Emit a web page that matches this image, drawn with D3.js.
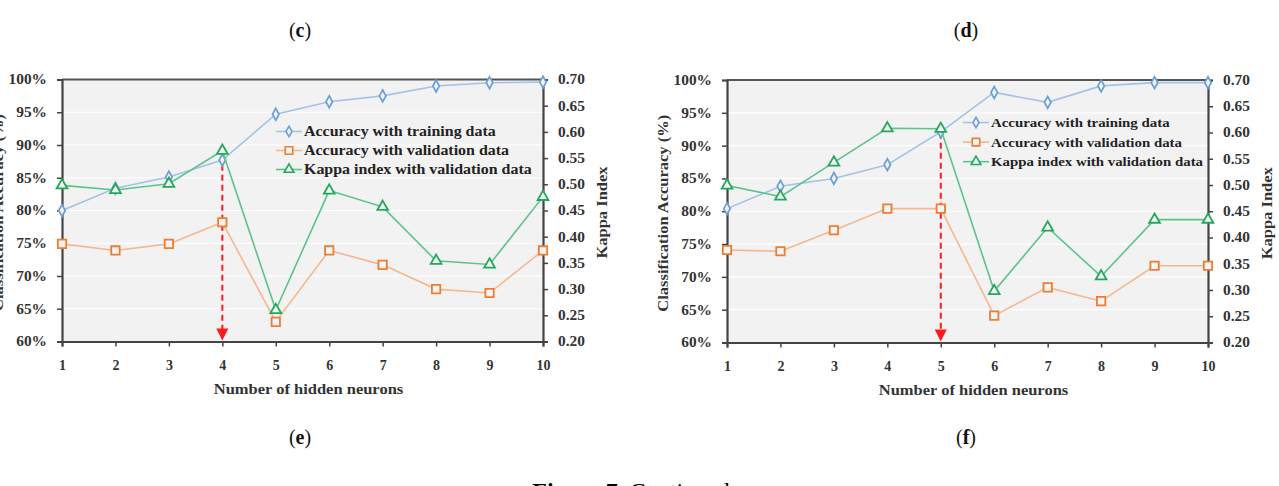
<!DOCTYPE html>
<html>
<head>
<meta charset="UTF-8">
<title>hidden_neurons</title>
<script src="https://cdn.jsdelivr.net/npm/d3@7/dist/d3.min.js"></script>
<style>
body { margin: 0; background: #fff; }
text { font-family: "Liberation Serif", "Times New Roman", serif; }
.axis text { font-size: 14px; font-weight: bold; fill: #333; }
.axis path, .axis line { stroke: #444; }
.title { font-size: 15px; font-weight: bold; fill: #333; }
.legend text { font-weight: bold; fill: #222; }
.panel { font-size: 20px; fill: #111; }
</style>
</head>
<body>
<div id="main"></div>
<script>
// x categories
var neurons = [1, 2, 3, 4, 5, 6, 7, 8, 9, 10];

// panel (e)
var trainE = [0.800, 0.834, 0.851, 0.877, 0.947, 0.966, 0.975, 0.990, 0.995, 0.996];
var validE = [0.749, 0.739, 0.749, 0.782, 0.630, 0.739, 0.717, 0.680, 0.674, 0.739];
var kappaE = [0.498, 0.489, 0.501, 0.564, 0.260, 0.488, 0.457, 0.354, 0.347, 0.476];

// panel (f)
var trainF = [0.804, 0.838, 0.850, 0.871, 0.921, 0.981, 0.966, 0.991, 0.996, 0.996];
var validF = [0.741, 0.739, 0.771, 0.804, 0.804, 0.641, 0.684, 0.663, 0.717, 0.717];
var kappaF = [0.499, 0.478, 0.543, 0.608, 0.607, 0.298, 0.419, 0.326, 0.434, 0.434];

var pctTicks = [0.60, 0.65, 0.70, 0.75, 0.80, 0.85, 0.90, 0.95, 1.00];
var kappaTicks = [0.20, 0.25, 0.30, 0.35, 0.40, 0.45, 0.50, 0.55, 0.60, 0.65, 0.70];
var legendNames = ["Accuracy with training data", "Accuracy with validation data", "Kappa index with validation data"];
var panelNames = ["(c)", "(d)", "(e)", "(f)"];

var W = 1279, H = 486;
var svg = d3.select("#main").append("svg").attr("width", W).attr("height", H);

var colors = {
	train: { line: "#a3c2e8", mark: "#6a9fd8" },
	valid: { line: "#f5b88e", mark: "#ed7d31" },
	kappa: { line: "#5cc48a", mark: "#22a85a" }
};

// widen Times a little so it reads like the Palatino of the original
var SX = 1.1;

function draw(cfg) {
	var g = svg.append("g");

	var x = d3.scaleLinear().domain([1, 10]).range([cfg.left, cfg.right]);
	var y = d3.scaleLinear().domain([0.6, 1.0]).range([cfg.bottom, cfg.top]);
	var yk = d3.scaleLinear().domain([0.2, 0.7]).range([cfg.bottom, cfg.top]);

	// plot background + grid
	g.append("rect")
		.attr("x", cfg.left).attr("y", cfg.top)
		.attr("width", cfg.right - cfg.left).attr("height", cfg.bottom - cfg.top)
		.attr("fill", "#f2f2f2");

	g.selectAll("line.grid")
		.data(pctTicks.slice(1, -1))
		.enter().append("line")
			.attr("class", "grid")
			.attr("x1", cfg.left).attr("x2", cfg.right)
			.attr("y1", function (d) { return y(d); })
			.attr("y2", function (d) { return y(d); })
			.attr("stroke", "#fff").attr("stroke-width", 1.2);

	// top border
	g.append("line")
		.attr("x1", cfg.left).attr("x2", cfg.right)
		.attr("y1", cfg.top).attr("y2", cfg.top)
		.attr("stroke", "#555").attr("stroke-width", 2);

	// axes
	var axL = g.append("g").attr("class", "axis")
		.attr("transform", "translate(" + cfg.left + ",0)")
		.call(d3.axisLeft(y).tickValues(pctTicks).tickFormat(d3.format(".0%")).tickSizeOuter(0).tickSize(5).tickPadding(10));
	var axR = g.append("g").attr("class", "axis")
		.attr("transform", "translate(" + cfg.right + ",0)")
		.call(d3.axisRight(yk).tickValues(kappaTicks).tickFormat(d3.format(".2f")).tickSizeOuter(0).tickSize(5).tickPadding(10));
	var axB = g.append("g").attr("class", "axis")
		.attr("transform", "translate(0," + cfg.bottom + ")")
		.call(d3.axisBottom(x).tickValues(neurons).tickFormat(d3.format("d")).tickSizeOuter(0).tickSize(5).tickPadding(14));
	[axL, axR, axB].forEach(function (a) {
		a.select(".domain").attr("stroke-width", 2.2);
		a.selectAll(".tick line").attr("stroke-width", 1.5);
	});
	// stretch the tick labels sideways, keeping their anchors
	axL.selectAll(".tick text").attr("transform", "translate(-15,0) scale(" + SX + ",1) translate(15,0)");
	axR.selectAll(".tick text").attr("transform", "translate(15,0) scale(" + SX + ",1) translate(-15,0)");

	// axis titles
	g.append("text").attr("class", "title")
		.attr("transform", "translate(" + ((cfg.left + cfg.right) / 2 + 6) + "," + (cfg.bottom + 52) + ") scale(" + SX + ",1)")
		.attr("text-anchor", "middle")
		.text("Number of hidden neurons");
	g.append("text").attr("class", "title")
		.attr("transform", "translate(" + (cfg.left - 59) + "," + ((cfg.top + cfg.bottom) / 2 + 2) + ") rotate(-90) scale(" + SX + ",1)")
		.attr("text-anchor", "middle")
		.text("Classification Accuracy (%)");
	g.append("text").attr("class", "title")
		.attr("transform", "translate(" + (cfg.right + 64) + "," + ((cfg.top + cfg.bottom) / 2 + 2) + ") rotate(-90) scale(" + SX + ",1)")
		.attr("text-anchor", "middle")
		.text("Kappa Index");

	var series = [
		{ key: "train", vals: cfg.train, sc: y, sym: d3.symbolDiamond, size: 40 },
		{ key: "valid", vals: cfg.valid, sc: y, sym: d3.symbolSquare, size: 70 },
		{ key: "kappa", vals: cfg.kappa, sc: yk, sym: d3.symbolTriangle, size: 50 }
	];

	// red dashed arrow
	var ax = x(cfg.arrowAt);
	var ay = yk(cfg.kappa[cfg.arrowAt - 1]) + 4;
	g.append("line")
		.attr("x1", ax).attr("x2", ax)
		.attr("y1", ay).attr("y2", cfg.bottom - 10)
		.attr("stroke", "#ff1a1a").attr("stroke-width", 2).attr("stroke-dasharray", "6,4");
	g.append("path")
		.attr("d", "M" + (ax - 6) + "," + (cfg.bottom - 13) + "L" + (ax + 6) + "," + (cfg.bottom - 13) + "L" + ax + "," + (cfg.bottom - 1) + "Z")
		.attr("fill", "#ff1a1a");

	series.forEach(function (s) {
		var line = d3.line()
			.x(function (d, i) { return x(neurons[i]); })
			.y(function (d) { return s.sc(d); });
		g.append("path")
			.datum(s.vals)
			.attr("d", line)
			.attr("fill", "none")
			.attr("stroke", colors[s.key].line)
			.attr("stroke-width", 1.6);
		g.selectAll("path.m-" + s.key)
			.data(s.vals)
			.enter().append("path")
				.attr("class", "m-" + s.key)
				.attr("d", d3.symbol().type(s.sym).size(s.size))
				.attr("transform", function (d, i) {
					var t = "translate(" + x(neurons[i]) + "," + s.sc(d) + ")";
					return s.key === "train" ? t + " scale(0.95,1)" : t;
				})
				.attr("fill", "#f4f4f4")
				.attr("stroke", colors[s.key].mark)
				.attr("stroke-width", 1.8);
	});

	// legend
	var lg = g.append("g").attr("class", "legend")
		.attr("transform", "translate(" + cfg.legX + "," + cfg.legY + ")");
	series.forEach(function (s, i) {
		var row = lg.append("g").attr("transform", "translate(0," + (i * cfg.legGap) + ")");
		row.append("line").attr("x1", 0).attr("x2", 26).attr("y1", 0).attr("y2", 0)
			.attr("stroke", colors[s.key].line).attr("stroke-width", 1.6);
		row.append("path")
			.attr("d", d3.symbol().type(s.sym).size(s.size * 0.8))
			.attr("transform", "translate(13,0)")
			.attr("fill", "#f4f4f4")
			.attr("stroke", colors[s.key].mark).attr("stroke-width", 1.6);
		row.append("text")
			.attr("transform", "translate(28,4.5) scale(" + SX + ",1)")
			.style("font-size", cfg.legFont + "px")
			.text(legendNames[i]);
	});
}

draw({ left: 62, right: 543, top: 79.5, bottom: 341.5,
	train: trainE, valid: validE, kappa: kappaE, arrowAt: 4,
	legX: 276, legY: 131.5, legGap: 19, legFont: 14.5 });

draw({ left: 727, right: 1208, top: 80, bottom: 342.5,
	train: trainF, valid: validF, kappa: kappaF, arrowAt: 5,
	legX: 963, legY: 122.5, legGap: 19.6, legFont: 13.5 });

// subfigure labels
var labelPos = [[300, 37], [966, 37], [300, 444], [966, 444]];
svg.selectAll("text.panel")
	.data(panelNames)
	.enter().append("text")
		.attr("class", "panel")
		.attr("x", function (d, i) { return labelPos[i][0]; })
		.attr("y", function (d, i) { return labelPos[i][1]; })
		.attr("text-anchor", "middle")
		.html(function (d) { return "(<tspan font-weight='bold'>" + d.slice(1, 2) + "</tspan>)"; });

svg.append("text")
	.attr("x", 634).attr("y", 499)
	.attr("text-anchor", "middle")
	.style("font-size", "24px")
	.html("<tspan font-weight='bold'>Figure 7.</tspan> Continued.");
</script>
</body>
</html>
